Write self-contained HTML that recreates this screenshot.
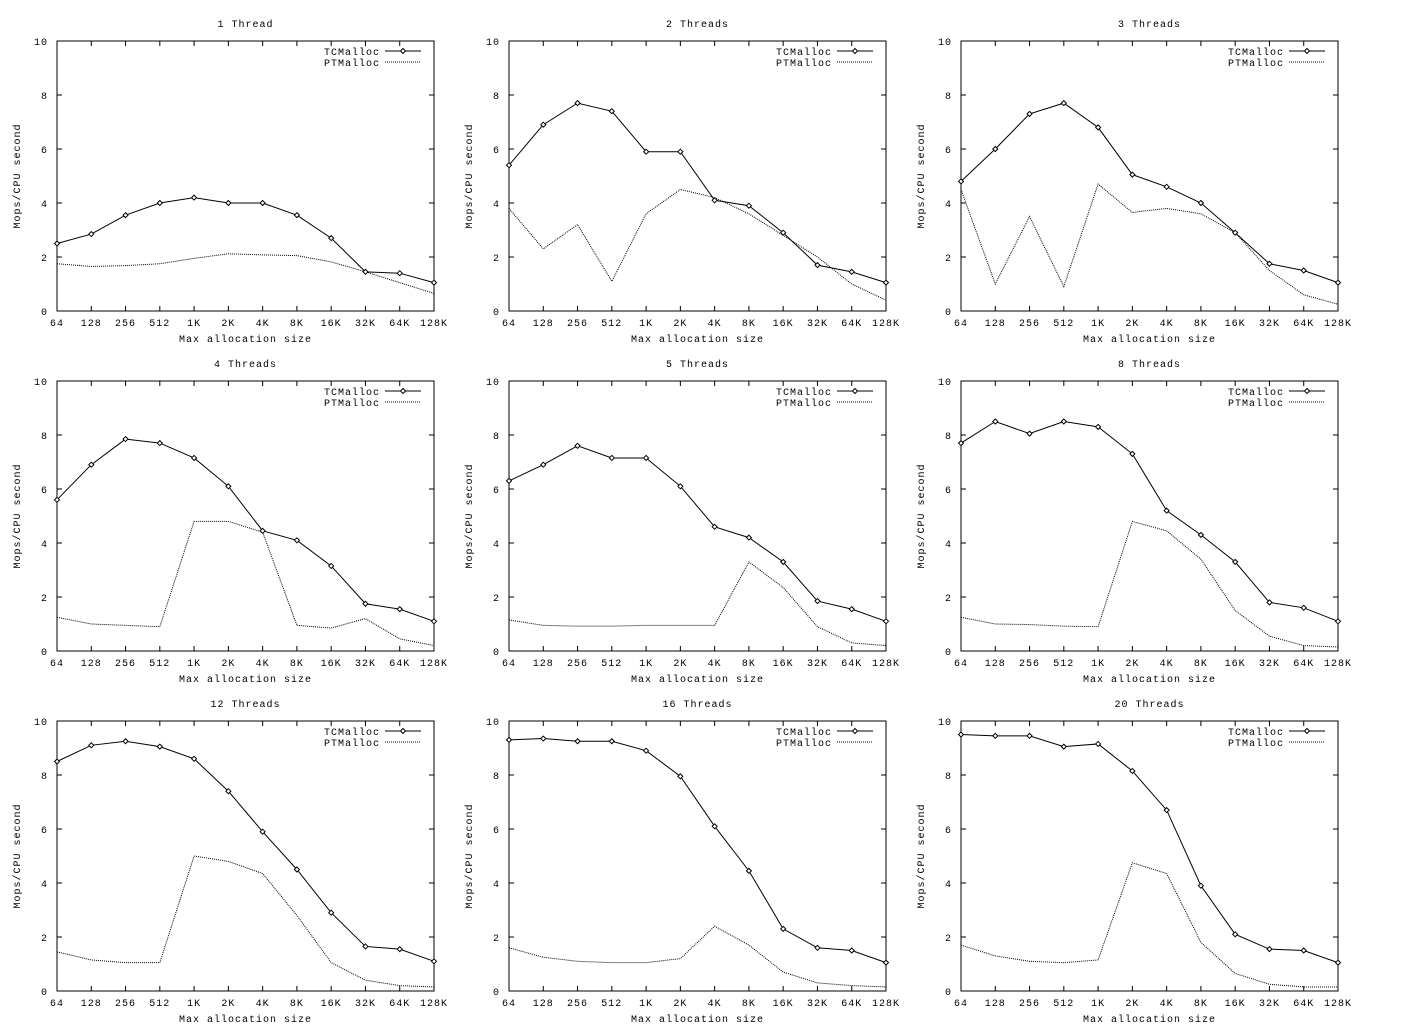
<!DOCTYPE html>
<html><head><meta charset="utf-8">
<style>
html,body{margin:0;padding:0;background:#fff;}
svg{display:block;}
text{font-family:"Liberation Mono","DejaVu Sans Mono",monospace;font-size:10px;fill:#000;letter-spacing:1px;}
</style></head>
<body>
<svg id="chart" width="1421" height="1030" viewBox="0 0 1421 1030" xmlns="http://www.w3.org/2000/svg"></svg>
<script>
const categories = ["64","128","256","512","1K","2K","4K","8K","16K","32K","64K","128K"];
const yTicks = [0,2,4,6,8,10];
const titles = ["1 Thread","2 Threads","3 Threads","4 Threads","5 Threads","8 Threads","12 Threads","16 Threads","20 Threads"];
const tc1 = [2.5,2.85,3.55,4.0,4.2,4.0,4.0,3.55,2.7,1.45,1.4,1.05];
const pt1 = [1.75,1.65,1.68,1.75,1.95,2.12,2.08,2.05,1.82,1.45,1.05,0.65];
const tc2 = [5.4,6.9,7.7,7.4,5.9,5.9,4.1,3.9,2.9,1.7,1.45,1.05];
const pt2 = [3.8,2.3,3.2,1.1,3.6,4.5,4.2,3.6,2.8,2.0,1.0,0.4];
const tc3 = [4.8,6.0,7.3,7.7,6.8,5.05,4.6,4.0,2.9,1.75,1.5,1.05];
const pt3 = [4.5,1.0,3.5,0.9,4.7,3.65,3.8,3.6,2.9,1.5,0.6,0.25];
const tc4 = [5.6,6.9,7.85,7.7,7.15,6.1,4.45,4.1,3.15,1.75,1.55,1.1];
const pt4 = [1.25,1.0,0.95,0.9,4.8,4.8,4.4,0.95,0.85,1.2,0.45,0.2];
const tc5 = [6.3,6.9,7.6,7.15,7.15,6.1,4.6,4.2,3.3,1.85,1.55,1.1];
const pt5 = [1.15,0.95,0.92,0.92,0.95,0.95,0.95,3.3,2.35,0.9,0.3,0.2];
const tc8 = [7.7,8.5,8.05,8.5,8.3,7.3,5.2,4.3,3.3,1.8,1.6,1.1];
const pt8 = [1.25,1.0,0.98,0.92,0.9,4.8,4.45,3.4,1.5,0.55,0.2,0.15];
const tc12 = [8.5,9.1,9.25,9.05,8.6,7.4,5.9,4.5,2.9,1.65,1.55,1.1];
const pt12 = [1.45,1.15,1.05,1.05,5.0,4.8,4.35,2.8,1.05,0.4,0.2,0.15];
const tc16 = [9.3,9.35,9.25,9.25,8.9,7.95,6.1,4.45,2.3,1.6,1.5,1.05];
const pt16 = [1.6,1.25,1.1,1.05,1.05,1.2,2.4,1.7,0.7,0.3,0.2,0.15];
const tc20 = [9.5,9.45,9.45,9.05,9.15,8.15,6.7,3.9,2.1,1.55,1.5,1.05];
const pt20 = [1.7,1.3,1.1,1.05,1.15,4.75,4.35,1.8,0.65,0.25,0.15,0.15];
const tcSeries = [tc1,tc2,tc3,tc4,tc5,tc8,tc12,tc16,tc20];
const ptSeries = [pt1,pt2,pt3,pt4,pt5,pt8,pt12,pt16,pt20];

const NS="http://www.w3.org/2000/svg";
const svg=document.getElementById('chart');
function mk(tag,attrs,parent){const e=document.createElementNS(NS,tag);for(const k in attrs)e.setAttribute(k,attrs[k]);(parent||svg).appendChild(e);return e;}
const colX=[57,509,961], rowY=[41,381,721], W=377, H=270;

for(let p=0;p<9;p++){
  const x0=colX[p%3], y0=rowY[Math.floor(p/3)];
  const xs=i=>x0+i*W/(categories.length-1);
  const ys=v=>y0+H-v/10*H;
  const g=mk('g',{});
  
  
  const t=mk('text',{x:x0+W/2,y:y0-14,'text-anchor':'middle'},g);t.textContent=titles[p];
  
  
  const fr=mk('rect',{x:x0,y:y0,width:W,height:H,fill:'none',stroke:'#000','stroke-width':1},g);
  
  
  yTicks.forEach(v=>{
    const y=ys(v);
    mk('line',{x1:x0,x2:x0+5,y1:y,y2:y,stroke:'#000'},g);
    mk('line',{x1:x0+W-5,x2:x0+W,y1:y,y2:y,stroke:'#000'},g);
    const tl=mk('text',{x:x0-9,y:y+4,'text-anchor':'end'},g);tl.textContent=v;
    
    
  });
  categories.forEach((c,i)=>{
    const x=xs(i);
    mk('line',{x1:x,x2:x,y1:y0+H,y2:y0+H-5,stroke:'#000'},g);
    mk('line',{x1:x,x2:x,y1:y0,y2:y0+5,stroke:'#000'},g);
    const tl=mk('text',{x:x,y:y0+H+15,'text-anchor':'middle'},g);tl.textContent=c;
    
    
  });
  const xl=mk('text',{x:x0+W/2,y:y0+H+31,'text-anchor':'middle'},g);xl.textContent='Max allocation size';
  
  
  const yl=mk('text',{x:0,y:0,'text-anchor':'middle',transform:`translate(${x0-37},${y0+H/2}) rotate(-90)`},g);yl.textContent='Mops/CPU second';
  
  
  const pt=ptSeries[p];
  const ptl=mk('polyline',{points:pt.map((v,i)=>xs(i)+','+ys(v)).join(' '),fill:'none',stroke:'#000','stroke-width':1,'stroke-dasharray':'1,1'},g);
  
  
  const tc=tcSeries[p];
  const tcl=mk('polyline',{points:tc.map((v,i)=>xs(i)+','+ys(v)).join(' '),fill:'none',stroke:'#000','stroke-width':1},g);
  
  
  tc.forEach((v,i)=>{
    const cx=xs(i),cy=ys(v);
    const d=mk('polygon',{points:`${cx},${cy-2.5} ${cx+2.5},${cy} ${cx},${cy+2.5} ${cx-2.5},${cy}`,fill:'#fff',stroke:'#000','stroke-width':1},g);
    
    
  });
  const lx=x0+W-13;
  const l1=mk('text',{x:x0+W-54,y:y0+14,'text-anchor':'end'},g);l1.textContent='TCMalloc';
  
  
  mk('line',{x1:x0+W-49,x2:lx,y1:y0+10,y2:y0+10,stroke:'#000'},g);
  const cx=(x0+W-49+lx)/2, cy=y0+10;
  mk('polygon',{points:`${cx},${cy-2.5} ${cx+2.5},${cy} ${cx},${cy+2.5} ${cx-2.5},${cy}`,fill:'#fff',stroke:'#000'},g);
  const l2=mk('text',{x:x0+W-54,y:y0+25,'text-anchor':'end'},g);l2.textContent='PTMalloc';
  
  
  mk('line',{x1:x0+W-49,x2:lx,y1:y0+21,y2:y0+21,stroke:'#000','stroke-dasharray':'1,1'},g);
}
</script>
</body></html>
